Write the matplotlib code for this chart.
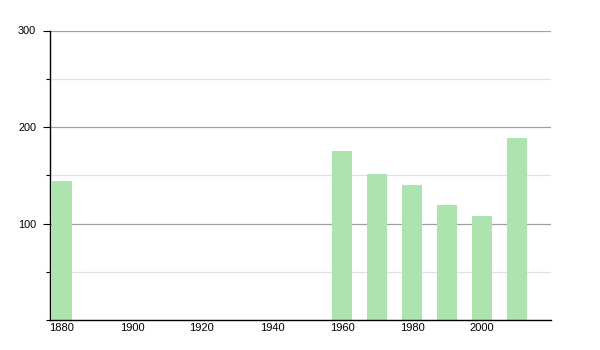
import matplotlib
matplotlib.use("Agg")
import matplotlib.pyplot as plt
from matplotlib.ticker import MultipleLocator

years = [1880, 1960, 1970, 1980, 1990, 2000, 2010]
population = [144, 175, 151, 140, 119, 108, 189]
xticks = [1880, 1900, 1920, 1940, 1960, 1980, 2000]
yticks = [100, 200, 300]

plt.rcParams['font.family'] = ['Liberation Sans', 'DejaVu Sans']

fig = plt.figure(figsize=(6, 3.5), dpi=100)
ax = fig.add_axes([50/600, 30/350, 501/600, 289.5/350])

ax.bar(years, population, width=5.9, color='#ade3ae', edgecolor='none', zorder=2)

ax.set_xlim(1876.6, 2019.7)
ax.set_ylim(0, 300)
ax.set_xticks(xticks)
ax.set_yticks(yticks)
ax.yaxis.set_minor_locator(MultipleLocator(50))
ax.grid(axis='y', which='major', color='#a0a0a0', linewidth=0.9, zorder=0)
ax.grid(axis='y', which='minor', color='#e2e2e2', linewidth=0.9, zorder=0)

for s in ['top', 'right']:
    ax.spines[s].set_visible(False)
for s in ['left', 'bottom']:
    ax.spines[s].set_color('black')
    ax.spines[s].set_linewidth(1.0)
    ax.spines[s].set_zorder(3)

ax.tick_params(axis='x', length=0, pad=2, labelsize=8, colors='black')
ax.tick_params(axis='y', which='major', length=5, width=0.8, pad=5, labelsize=7.8)
ax.tick_params(axis='y', which='minor', length=3, width=0.8)

fig.savefig('out.png', dpi=100)
